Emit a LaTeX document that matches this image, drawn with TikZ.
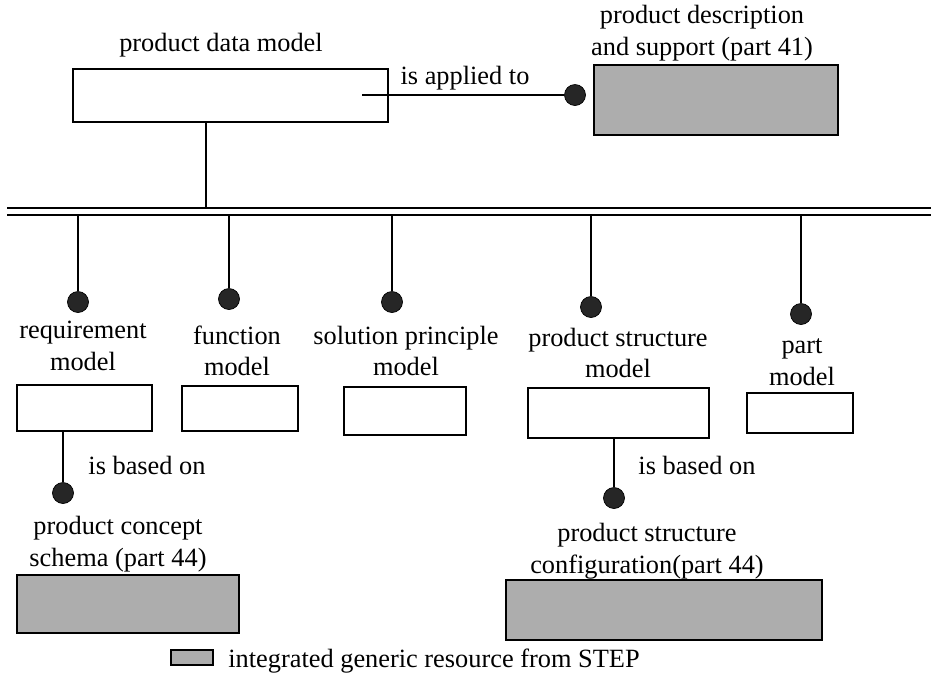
\documentclass[tikz,border=0pt]{standalone}
\usepackage{fontspec}
\setmainfont{Liberation Serif}
\usepackage{tikz}
\usetikzlibrary{positioning}
\tikzset{
	block/.style={draw, line width=1.2pt, inner sep=0pt, outer sep=0pt},
	resource/.style={block, line width=1.6pt, fill=black!32},
	joint/.style={circle, fill=black!85, draw=black, inner sep=0pt, minimum size=0.42cm},
	label/.style={align=center, inner sep=0pt, font=\fontsize{15}{18}\selectfont},
	link/.style={line width=1.2pt}
}

\begin{document}
\begin{tikzpicture}[x=0.02cm, y=-0.02cm]
		\useasboundingbox (0,0) rectangle (931,691);
		
		\node[block, minimum width=6.3cm, minimum height=1.06cm] (pdm) at (230.5,95.5) {};
		\node[label] at (221,45) {product data model};
		\node[resource, minimum width=4.88cm, minimum height=1.4cm] (part41) at (716,100) {};
		\node[label] at (702,33) {product description\\and support (part 41)};
		\node[joint] (jpdm) at (575,95) {};
		\coordinate (pdmin) at (362,95);
		\draw[link] (pdmin) -- (jpdm);
		\node[label] at (465,78) {is applied to};
		
		\coordinate (busl) at (7,215);
		\coordinate (busr) at (931,215);
		\coordinate (bustop) at (7,208);
		\draw[link] (bustop) -- (bustop -| busr);
		\draw[link] (busl) -- (busr);
		\coordinate (pdmout) at (206,122);
		\draw[link] (pdmout) -- (pdmout |- bustop);
		
		\node[joint] (jreq) at (78,302) {};
		\node[joint] (jfun) at (229,299) {};
		\node[joint] (jsol) at (392,302) {};
		\node[joint] (jpst) at (591,307) {};
		\node[joint] (jpart) at (801,314) {};
		\foreach \j in {jreq, jfun, jsol, jpst, jpart}
			\draw[link] (\j) -- (\j |- busl);
		
		\node[label] at (83,346) {requirement\\model};
		\node[label] at (237,351) {function\\model};
		\node[label] at (406,351) {solution principle\\model};
		\node[label] at (618,353) {product structure\\model};
		\node[label] at (802,362) {part\\model};
		
		\node[block, minimum width=2.7cm, minimum height=0.92cm] (req) at (84.5,408) {};
		\node[block, minimum width=2.32cm, minimum height=0.9cm] (fun) at (240,408.5) {};
		\node[block, minimum width=2.44cm, minimum height=0.96cm] (sol) at (405,411) {};
		\node[block, minimum width=3.62cm, minimum height=1cm] (pst) at (618.5,413) {};
		\node[block, minimum width=2.12cm, minimum height=0.8cm] (part) at (800,413) {};
		
		\node[joint] (jpcs) at (63,493) {};
		\node[joint] (jpsc) at (614,498) {};
		\draw[link] (jpcs) -- (jpcs |- req.south);
		\draw[link] (jpsc) -- (jpsc |- pst.south);
		\node[label] at (147,465) {is based on};
		\node[label] at (697,465) {is based on};
		
		\node[label] at (118,544) {product concept\\schema (part 44)};
		\node[resource, minimum width=4.44cm, minimum height=1.16cm] (pcs) at (128,604) {};
		\node[label] at (647,551) {product structure\\configuration(part 44)};
		\node[resource, minimum width=6.32cm, minimum height=1.2cm] (psc) at (664,610) {};
		
		\node[resource, line width=1.2pt, minimum width=0.84cm, minimum height=0.3cm] (key) at (192,657.5) {};
		\node[label, right=0.3cm of key, yshift=-2pt] {integrated generic resource from STEP};
	\end{tikzpicture}
\end{document}
